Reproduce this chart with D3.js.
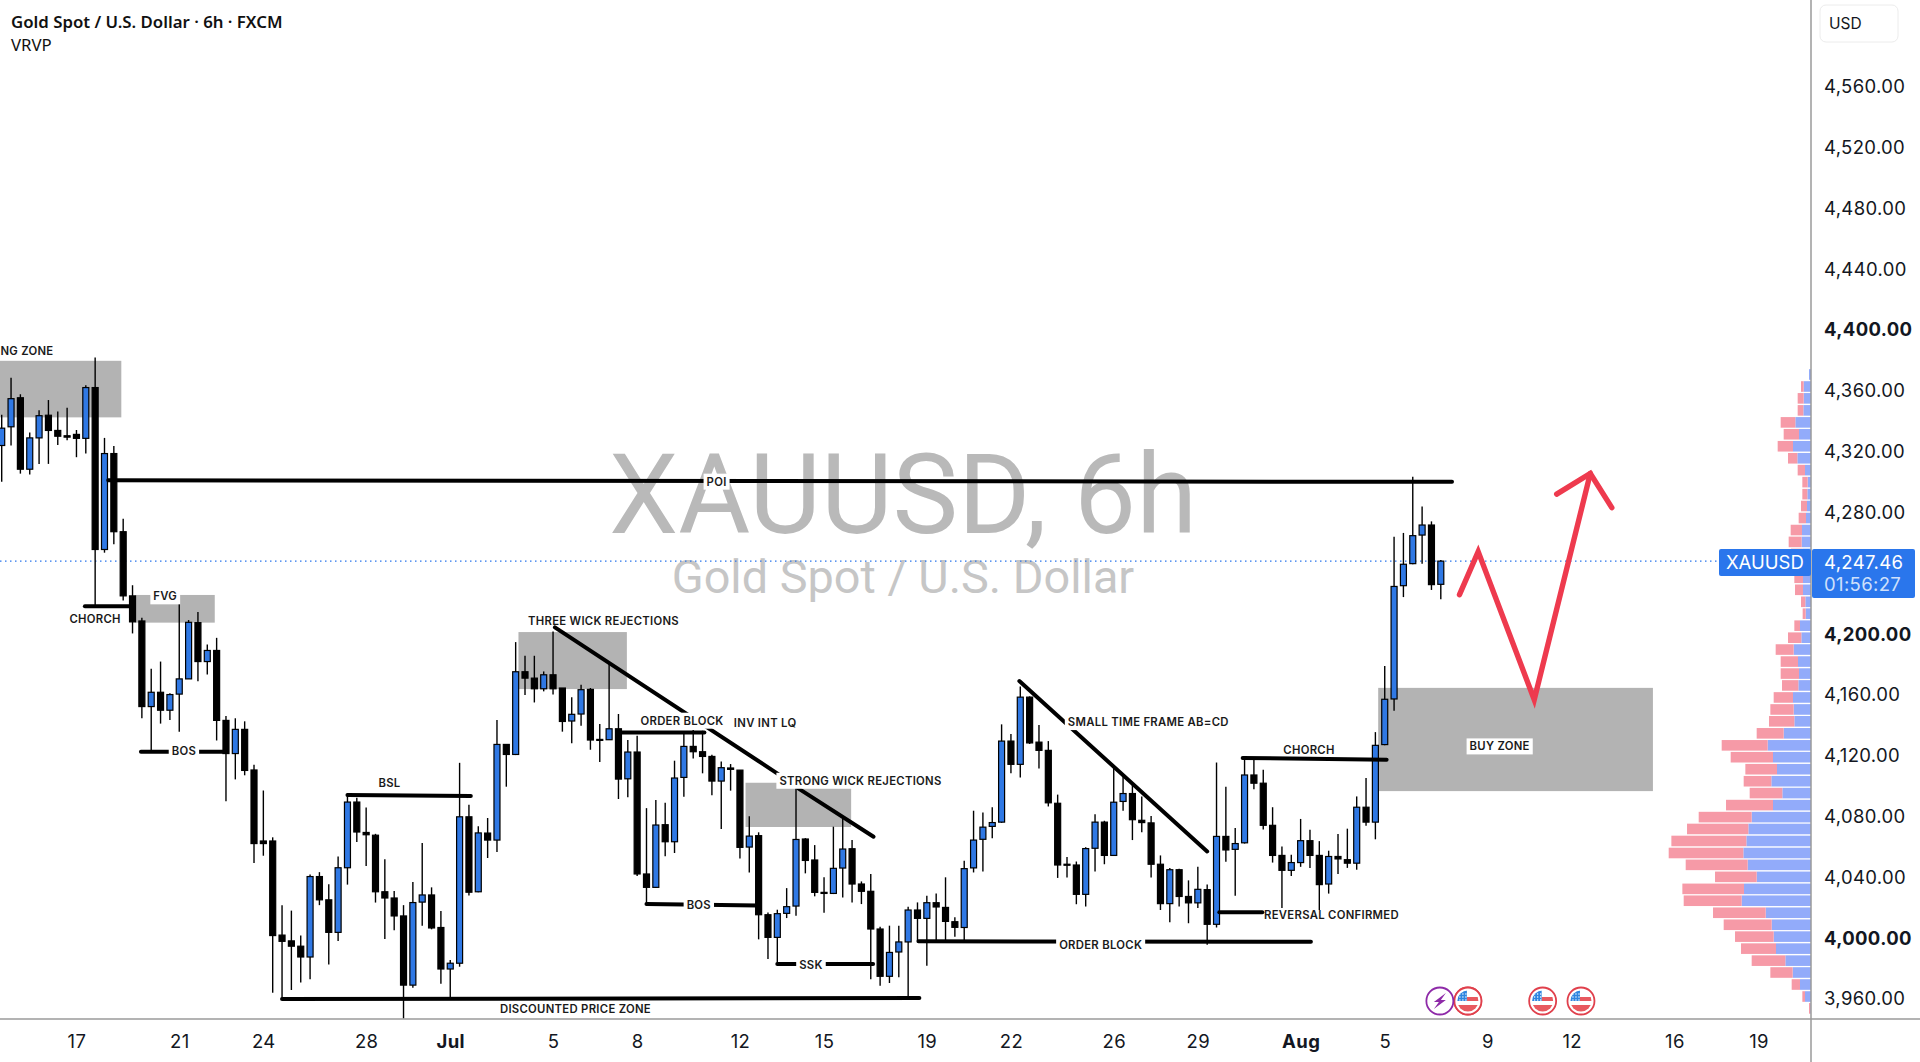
<!DOCTYPE html>
<html>
<head>
<meta charset="utf-8">
<title>XAUUSD 6h</title>
<script src="https://cdn.jsdelivr.net/npm/d3@7"></script>
<style>
  html, body { margin: 0; padding: 0; background: #fff; }
  svg { display: block; }
  .axis path, .axis line { display: none; }
  .axis text { font-family: Inter, sans-serif; font-size: 18.5px; letter-spacing: .35px; fill: #131722; }
  .note { font-family: Inter, sans-serif; font-size: 11.3px; font-weight: 600; letter-spacing: .3px; fill: #1a1a1a; }
</style>
</head>
<body>
<div id="chart"></div>
<script>
//** candles (blue = up, black = down)
const opens = [
  4323.5, 4335.8, 4354.9, 4307.9, 4328.5, 4343.4, 4333.4, 4329.9, 4330.8, 4328.2,
  4361.6, 4255.1, 4318.2, 4266.8, 4224.6, 4208.1, 4151.8, 4161.2, 4149.4, 4160.0,
  4170.0, 4207.0, 4181.4, 4188.7, 4142.7, 4120.9, 4136.8, 4110.1, 4063.4, 4063.4,
  4001.5, 3997.7, 3994.2, 3987.1, 4040.0, 4024.7, 4003.3, 4045.8, 4089.0, 4069.0,
  4067.2, 4030.0, 4025.9, 4014.1, 3968.6, 4023.2, 4027.9, 4006.5, 3979.2, 3983.0,
  4079.3, 4030.0, 4068.6, 4064.0, 4126.9, 4120.3, 4174.7, 4170.5, 4163.5, 4172.7,
  4164.0, 4142.3, 4146.9, 4163.1, 4130.2, 4130.0, 4137.2, 4104.3, 4121.9, 4041.7,
  4032.9, 4074.1, 4062.9, 4105.2, 4125.6, 4122.1, 4119.0, 4102.8, 4111.4, 4110.0,
  4059.4, 4066.9, 4014.9, 4000.0, 4015.8, 4020.6, 4064.7, 4050.9, 4029.6, 4028.9,
  4045.6, 4058.3, 4035.1, 4030.3, 4005.5, 3974.4, 3990.4, 3997.0, 4018.0, 4012.5,
  4022.8, 4019.7, 4010.3, 4006.5, 4045.7, 4064.5, 4073.0, 4075.8, 4129.1, 4113.8,
  4158.0, 4128.4, 4123.0, 4088.2, 4048.1, 4047.6, 4028.3, 4058.6, 4075.8, 4053.9,
  4089.4, 4094.6, 4077.0, 4075.3, 4048.1, 4022.2, 4044.5, 4026.9, 4022.7, 4031.4,
  4008.6, 4066.4, 4057.9, 4062.2, 4106.8, 4101.4, 4073.7, 4053.9, 4044.1, 4049.2,
  4063.6, 4053.9, 4035.1, 4053.2, 4051.1, 4048.8, 4085.6, 4075.8, 4126.8, 4156.8,
  4231.3, 4245.8, 4264.6, 4271.2, 4232.2
];
const highs = [
  4343.7, 4368.1, 4357.2, 4332.0, 4346.7, 4353.4, 4345.8, 4348.4, 4333.7, 4363.1,
  4381.3, 4328.5, 4323.2, 4275.3, 4231.6, 4210.2, 4176.7, 4181.4, 4160.6, 4219.9,
  4208.7, 4214.0, 4192.6, 4197.0, 4145.6, 4144.1, 4142.1, 4113.6, 4096.6, 4065.8,
  4021.2, 4017.6, 4001.2, 4041.4, 4042.9, 4035.0, 4053.2, 4093.7, 4091.9, 4085.4,
  4068.1, 4051.4, 4030.5, 4021.2, 4036.4, 4062.0, 4032.9, 4017.3, 3985.1, 4114.8,
  4087.2, 4073.1, 4078.5, 4142.9, 4127.1, 4194.2, 4185.2, 4185.2, 4174.9, 4201.2,
  4164.0, 4158.0, 4166.2, 4164.0, 4140.3, 4179.8, 4146.9, 4129.8, 4132.6, 4085.0,
  4090.3, 4088.6, 4116.2, 4134.2, 4136.4, 4135.9, 4120.1, 4115.7, 4114.0, 4110.0,
  4079.6, 4069.1, 4016.4, 4018.2, 4032.4, 4098.6, 4065.3, 4060.7, 4039.5, 4072.8,
  4078.9, 4064.0, 4036.8, 4041.7, 4007.0, 4007.7, 4007.7, 4020.2, 4023.0, 4027.4,
  4028.9, 4039.5, 4013.2, 4050.4, 4083.3, 4082.1, 4085.6, 4140.1, 4133.8, 4165.0,
  4158.5, 4139.7, 4129.1, 4093.9, 4052.8, 4049.9, 4059.3, 4081.0, 4076.7, 4111.5,
  4105.6, 4100.9, 4092.7, 4079.8, 4053.9, 4045.7, 4045.2, 4037.5, 4046.4, 4034.7,
  4115.0, 4099.0, 4072.0, 4117.4, 4116.7, 4110.3, 4085.6, 4059.8, 4054.4, 4077.9,
  4070.8, 4063.3, 4057.0, 4068.0, 4071.5, 4092.7, 4104.9, 4135.0, 4178.4, 4263.5,
  4266.0, 4302.9, 4283.4, 4273.6, 4248.2
];
const lows = [
  4299.7, 4323.5, 4305.0, 4304.4, 4311.4, 4311.4, 4323.8, 4327.0, 4315.8, 4318.2,
  4218.4, 4253.0, 4258.6, 4221.6, 4199.9, 4144.1, 4122.1, 4140.6, 4143.0, 4135.3,
  4170.0, 4168.5, 4172.9, 4129.5, 4089.5, 4103.9, 4106.6, 4049.0, 4053.7, 3963.6,
  3959.2, 3965.4, 3970.4, 3972.4, 4021.2, 3982.1, 3997.7, 4034.7, 4062.8, 4047.0,
  4022.9, 3998.9, 4004.7, 3946.6, 3966.9, 4007.7, 4005.3, 3969.5, 3959.5, 3980.7,
  4027.6, 4029.7, 4052.2, 4056.1, 4099.1, 4119.9, 4159.4, 4154.5, 4161.8, 4159.8,
  4135.3, 4127.6, 4139.2, 4123.4, 4115.3, 4129.8, 4091.0, 4092.1, 4040.3, 4021.9,
  4032.4, 4053.3, 4055.5, 4092.5, 4117.7, 4107.9, 4093.4, 4071.2, 4096.5, 4051.9,
  4042.7, 3998.7, 3985.8, 3982.5, 4012.7, 4014.3, 4042.1, 4027.0, 4016.2, 4028.5,
  4026.3, 4023.0, 4021.9, 3972.4, 3968.2, 3970.0, 3973.7, 3959.4, 3997.8, 3981.4,
  3997.8, 3997.8, 4000.4, 3998.3, 4042.7, 4043.4, 4065.2, 4075.3, 4108.0, 4105.1,
  4127.2, 4111.0, 4086.1, 4039.1, 4039.4, 4021.8, 4020.3, 4043.4, 4048.1, 4053.7,
  4083.3, 4064.0, 4069.2, 4039.4, 4018.0, 4010.0, 4020.3, 4009.3, 4019.4, 3995.2,
  4006.5, 4049.7, 4027.4, 4061.7, 4097.4, 4070.9, 4049.2, 4019.4, 4040.3, 4046.4,
  4045.7, 4018.0, 4028.8, 4041.7, 4045.7, 4044.5, 4073.4, 4064.5, 4126.3, 4149.1,
  4223.8, 4245.4, 4245.8, 4228.5, 4222.4
];
const closes = [
  4334.9, 4354.3, 4307.9, 4328.5, 4343.1, 4333.4, 4329.6, 4329.0, 4328.2, 4361.6,
  4255.1, 4318.2, 4266.8, 4224.6, 4207.5, 4151.8, 4161.2, 4149.4, 4159.7, 4170.0,
  4207.2, 4181.4, 4188.7, 4142.7, 4120.9, 4136.8, 4109.8, 4061.7, 4061.7, 4001.2,
  3997.4, 3994.2, 3987.1, 4040.0, 4024.7, 4003.3, 4045.8, 4089.0, 4069.3, 4067.5,
  4030.0, 4025.9, 4014.1, 3968.6, 4022.9, 4027.9, 4006.2, 3979.2, 3983.0, 4079.3,
  4029.7, 4068.7, 4064.0, 4126.9, 4120.3, 4174.7, 4170.5, 4163.5, 4172.7, 4163.5,
  4142.0, 4146.7, 4162.9, 4129.8, 4129.8, 4137.2, 4104.1, 4121.9, 4041.7, 4032.9,
  4073.9, 4062.9, 4104.8, 4125.6, 4122.1, 4119.0, 4102.8, 4111.6, 4110.5, 4059.2,
  4066.6, 4014.9, 4000.0, 4015.6, 4020.2, 4064.4, 4050.6, 4029.6, 4028.9, 4045.4,
  4058.1, 4035.1, 4030.3, 4005.5, 3974.4, 3990.1, 3997.0, 4018.0, 4012.5, 4022.8,
  4020.0, 4010.5, 4006.6, 4045.2, 4064.0, 4072.5, 4075.5, 4129.1, 4113.8, 4158.0,
  4127.9, 4123.0, 4088.5, 4047.6, 4047.6, 4028.3, 4058.4, 4075.8, 4053.9, 4088.9,
  4094.6, 4077.4, 4075.5, 4048.1, 4022.2, 4044.5, 4026.9, 4022.7, 4031.6, 4008.6,
  4066.4, 4057.5, 4061.7, 4106.8, 4101.4, 4073.7, 4053.9, 4044.1, 4049.2, 4063.6,
  4053.9, 4034.7, 4053.2, 4051.6, 4048.8, 4085.6, 4075.8, 4126.3, 4156.6, 4230.8,
  4245.4, 4264.2, 4271.2, 4232.0, 4247.46
];

//** price axis and time axis
const priceTicks = [3960, 4000, 4040, 4080, 4120, 4160, 4200, 4240, 4280, 4320, 4360, 4400, 4440, 4480, 4520, 4560];
const boldPrices = [4000, 4200, 4400];
const timeTickBars = [8, 19, 28, 39, 48, 59, 68, 79, 88, 99, 108, 119, 128, 139, 148, 159, 168, 179, 188];
const timeTickLabels = ['17', '21', '24', '28', 'Jul', '5', '8', '12', '15', '19', '22', '26', '29', 'Aug', '5', '9', '12', '16', '19'];

//** visible range volume profile
const profilePrices = [
  4370.2, 4362.3, 4354.5, 4346.6, 4338.7, 4330.9, 4323.0, 4315.1, 4307.3, 4299.4,
  4291.5, 4283.7, 4275.8, 4267.9, 4260.1, 4252.2, 4244.3, 4236.5, 4228.6, 4220.7,
  4212.9, 4205.0, 4197.1, 4189.3, 4181.4, 4173.5, 4165.7, 4157.8, 4149.9, 4142.1,
  4134.2, 4126.3, 4118.5, 4110.6, 4102.7, 4094.9, 4087.0, 4079.1, 4071.3, 4063.4,
  4055.5, 4047.7, 4039.8, 4031.9, 4024.1, 4016.2, 4008.3, 4000.5, 3992.6, 3984.7,
  3976.9, 3969.0, 3961.1, 3953.3
];
const volumeUp = [
  6, 22, 22, 23, 47, 36, 54, 41, 18, 10, 11, 12, 15, 27, 28, 25, 22, 24, 24, 17,
  16, 33, 29, 52, 39, 36, 38, 54, 52, 50, 82, 130, 114, 102, 119, 86, 114, 178, 188, 194,
  203, 190, 163, 201, 208, 136, 118, 112, 105, 77, 55, 33, 18, 2
];
const volumeDown = [
  0, 8, 18, 17, 44, 46, 46, 28, 22, 16, 15, 18, 22, 34, 39, 35, 28, 26, 24, 13,
  9, 17, 40, 54, 52, 55, 49, 58, 70, 76, 81, 138, 127, 95, 83, 98, 141, 159, 184, 225,
  224, 186, 125, 185, 174, 158, 144, 116, 105, 101, 67, 25, 8, 4
];

//** drawn annotations, in bar number and price
const zoneBars = [[-0.2, 12.8], [14.3, 22.8], [55.3, 66.9], [79.6, 90.9], [147.3, 176.7]];
const zonePrices = [[4379.2, 4342], [4225.2, 4207], [4200.8, 4163.3], [4101.7, 4072.6], [4164.1, 4096.2]];
const lineBars = [
  [11.4, 155.2], [8.9, 13.8], [14.9, 24.1], [37, 50.2], [30, 98.2], [59.2, 83.1], [85.2, 93.3],
  [66.3, 75.2], [69, 80.9], [83, 93.25], [98.1, 140.1], [108.9, 129], [130.3, 134.9], [132.8, 148.2]
];
const linePrices = [
  [4300.6, 4299.6], [4217.8, 4217.8], [4122.1, 4122.1], [4093.7, 4093], [3959.5, 3960.1], [4203.9, 4107.4], [4098.2, 4066.2],
  [4134.8, 4134.8], [4021.9, 4021], [3982.5, 3982.5], [3997.4, 3997.1], [4168.6, 4056.5], [4016.6, 4016.6], [4118, 4116.9]
];
const noteTexts = [
  'NG ZONE', 'CHORCH', 'FVG', 'BOS', 'BSL', 'THREE WICK REJECTIONS', 'ORDER BLOCK', 'INV INT LQ',
  'STRONG WICK REJECTIONS', 'BOS', 'SSK', 'DISCOUNTED PRICE ZONE', 'SMALL TIME FRAME AB=CD', 'CHORCH',
  'BUY ZONE', 'ORDER BLOCK', 'REVERSAL CONFIRMED', 'POI'
];
const noteBars = [2.7, 10, 17.5, 19.5, 41.5, 64.4, 72.8, 81.7, 91.9, 74.6, 86.6, 61.4, 122.7, 139.9, 160.3, 117.6, 142.3, 76.5];
const notePrices = [4385.8, 4209.3, 4224.3, 4122.4, 4101.3, 4208.3, 4142.5, 4140.7, 4103, 4021.5, 3982, 3953.1, 4141.6, 4123.2, 4125.6, 3995.2, 4015, 4299.7];
const noteBoxed = [false, false, true, true, false, false, true, false, true, true, true, false, true, false, true, true, false, true];
const arrowBars = [156, 158, 164, 170];
const arrowPrices = [4225.4, 4253.7, 4156.3, 4305.1];
const headBars = [166.4, 170, 172.3];
const headPrices = [4291.5, 4305.1, 4282.6];

const lastPrice = 4247.46;
const flagBars = [156.9, 164.9, 169];
const boltBar = 153.9;

const W = 1920, H = 1062;
const plotRight = 1811, plotBottom = 1019;
const candleBlue = '#2f78e4', ink = '#000';

const svg = d3.select('#chart').append('svg').attr('width', W).attr('height', H);
const x = d3.scaleLinear().domain([0, 154]).range([1.7, 1440.8]);
const y = d3.scaleLinear().domain([3960, 4560]).range([998.2, 85.9]);
const volX = d3.scaleLinear().domain([0, 427]).range([0, 142.3]);

//** watermark
const wm = svg.append('g').attr('font-family', 'Roboto, sans-serif').attr('text-anchor', 'middle');
wm.append('text').attr('x', 903).attr('y', 533).attr('font-size', 110.4).attr('fill', '#b9b9b9').text('XAUUSD, 6h');
wm.append('text').attr('x', 903).attr('y', 593).attr('font-size', 46.8).attr('fill', '#c6c6c6').text('Gold Spot / U.S. Dollar');

//** volume profile
const profile = svg.append('g');
profile.selectAll('.up').data(profilePrices).join('rect').attr('class', 'up')
  .attr('x', (d, i) => plotRight - volX(volumeUp[i]))
  .attr('y', d => y(d) - 5.3)
  .attr('width', (d, i) => volX(volumeUp[i]))
  .attr('height', 10.6)
  .attr('fill', '#92abfa');
profile.selectAll('.down').data(profilePrices).join('rect').attr('class', 'down')
  .attr('x', (d, i) => plotRight - volX(volumeUp[i] + volumeDown[i]))
  .attr('y', d => y(d) - 5.3)
  .attr('width', (d, i) => volX(volumeDown[i]))
  .attr('height', 10.6)
  .attr('fill', '#f69aa7');

//** last price dotted line
svg.append('line')
  .attr('x1', 0).attr('x2', 1719)
  .attr('y1', y(lastPrice)).attr('y2', y(lastPrice))
  .attr('stroke', '#2a76ec').attr('stroke-width', 1.2).attr('stroke-dasharray', '1.5 3.5');

//** zones
svg.append('g').selectAll('rect').data(zoneBars).join('rect')
  .attr('x', d => x(d[0]))
  .attr('width', d => x(d[1]) - x(d[0]))
  .attr('y', (d, i) => y(zonePrices[i][0]))
  .attr('height', (d, i) => y(zonePrices[i][1]) - y(zonePrices[i][0]))
  .attr('fill', '#b3b3b3');

//** candles
const candles = svg.append('g').selectAll('g').data(opens).join('g');
candles.append('line')
  .attr('x1', (d, i) => x(i)).attr('x2', (d, i) => x(i))
  .attr('y1', (d, i) => y(highs[i])).attr('y2', (d, i) => y(lows[i]))
  .attr('stroke', ink).attr('stroke-width', 1.4);
candles.append('rect')
  .attr('x', (d, i) => x(i) - 3)
  .attr('width', 6)
  .attr('y', (d, i) => y(Math.max(opens[i], closes[i])))
  .attr('height', (d, i) => Math.max(1, Math.abs(y(opens[i]) - y(closes[i]))))
  .attr('fill', (d, i) => closes[i] > opens[i] ? candleBlue : ink)
  .attr('stroke', ink).attr('stroke-width', 1.2);

//** drawn lines
svg.append('g').selectAll('line').data(lineBars).join('line')
  .attr('x1', d => x(d[0])).attr('x2', d => x(d[1]))
  .attr('y1', (d, i) => y(linePrices[i][0])).attr('y2', (d, i) => y(linePrices[i][1]))
  .attr('stroke', ink).attr('stroke-width', 4).attr('stroke-linecap', 'round');

//** red projection
const arrowLine = d3.line().x(d => x(d[0])).y(d => y(d[1]));
svg.append('path')
  .attr('d', arrowLine(arrowBars.map((b, i) => [b, arrowPrices[i]])))
  .attr('fill', 'none').attr('stroke', '#ee3a4e').attr('stroke-width', 5.4)
  .attr('stroke-linecap', 'round').attr('stroke-linejoin', 'miter');
svg.append('path')
  .attr('d', arrowLine(headBars.map((b, i) => [b, headPrices[i]])))
  .attr('fill', 'none').attr('stroke', '#ee3a4e').attr('stroke-width', 5.4)
  .attr('stroke-linecap', 'round').attr('stroke-linejoin', 'miter');

//** annotation labels, white plate where the line or zone is broken by the text
const notes = svg.append('g');
noteTexts.forEach((t, i) => {
  const g = notes.append('g');
  const label = g.append('text').attr('class', 'note')
    .attr('x', x(noteBars[i])).attr('y', y(notePrices[i]))
    .attr('text-anchor', 'middle').attr('dominant-baseline', 'central')
    .text(t);
  if (noteBoxed[i]) {
    const b = label.node().getBBox();
    g.insert('rect', 'text')
      .attr('x', b.x - 3).attr('y', b.y - 1)
      .attr('width', b.width + 6).attr('height', b.height + 2)
      .attr('fill', '#fff');
  }
});

//** event icons
const defs = svg.append('defs');
const iconY = 1001;
flagBars.concat([boltBar + 3]).forEach((b, i) => {
  const cx = x(b);
  defs.append('clipPath').attr('id', 'flag' + i).append('circle').attr('cx', cx).attr('cy', iconY).attr('r', 10.5);
  const g = svg.append('g');
  g.append('circle').attr('cx', cx).attr('cy', iconY).attr('r', 13.5).attr('fill', '#fff').attr('stroke', '#e0404c').attr('stroke-width', 1.8);
  const f = g.append('g').attr('clip-path', 'url(#flag' + i + ')');
  f.append('rect').attr('x', cx - 1).attr('y', iconY - 4).attr('width', 12).attr('height', 4).attr('fill', '#e8595f');
  f.append('rect').attr('x', cx - 11).attr('y', iconY + 4).attr('width', 22).attr('height', 7).attr('fill', '#e8595f');
  f.append('rect').attr('x', cx - 11).attr('y', iconY - 11).attr('width', 10).attr('height', 11).attr('fill', '#2f86e0');
  [-8, -5, -2].forEach(dx => [-7, -4, -1].forEach(dy => {
    f.append('circle').attr('cx', cx + dx).attr('cy', iconY + dy).attr('r', .7).attr('fill', '#fff');
  }));
});
const boltX = x(boltBar);
svg.append('circle').attr('cx', boltX).attr('cy', iconY).attr('r', 13.5).attr('fill', '#fff').attr('stroke', '#8e2aa8').attr('stroke-width', 1.8);
svg.append('path')
  .attr('transform', 'translate(' + boltX + ',' + iconY + ')')
  .attr('d', 'M6 -8L-6 1L-1 1L-6 8L6 -1L1 -1Z')
  .attr('fill', '#8e2aa8');

//** axes
svg.append('rect').attr('x', plotRight + 1).attr('y', 0).attr('width', W - plotRight).attr('height', plotBottom).attr('fill', '#fff');
const yAxis = d3.axisRight(y).tickValues(priceTicks).tickFormat(d3.format(',.2f')).tickSize(0).tickPadding(0);
const yg = svg.append('g').attr('class', 'axis').attr('transform', 'translate(1824,0.8)').call(yAxis);
yg.selectAll('text').style('font-weight', d => boldPrices.includes(d) ? 700 : 400);

const xAxis = d3.axisBottom(x).tickValues(timeTickBars).tickFormat((d, i) => timeTickLabels[i]).tickSize(0).tickPadding(0);
const xg = svg.append('g').attr('class', 'axis').attr('transform', 'translate(0,1034.5)').call(xAxis);
xg.selectAll('text').style('font-weight', d => (d === 48 || d === 139) ? 700 : 400);

svg.append('line').attr('x1', plotRight).attr('x2', plotRight).attr('y1', 0).attr('y2', H).attr('stroke', '#9a9a9a').attr('stroke-width', 1.5);
svg.append('line').attr('x1', 0).attr('x2', W).attr('y1', plotBottom).attr('y2', plotBottom).attr('stroke', '#9a9a9a').attr('stroke-width', 1.5);

//** last price label
const tag = svg.append('g').attr('font-family', 'Inter, sans-serif').attr('font-size', 18.5);
tag.append('rect').attr('x', 1719).attr('y', 549).attr('width', 92).attr('height', 27).attr('rx', 2).attr('fill', '#2a76ec');
tag.append('rect').attr('x', 1812).attr('y', 549).attr('width', 103).attr('height', 49).attr('rx', 2).attr('fill', '#2a76ec');
tag.append('text').attr('x', 1726).attr('y', 569).attr('fill', '#fff').text('XAUUSD');
tag.append('text').attr('x', 1824).attr('y', 568.5).attr('letter-spacing', '.35').attr('fill', '#fff').text(d3.format(',.2f')(lastPrice));
tag.append('text').attr('x', 1824).attr('y', 590.5).attr('letter-spacing', '.35').attr('fill', '#cfe0fb').text('01:56:27');

//** currency box
svg.append('rect').attr('x', 1820).attr('y', 5).attr('width', 78).attr('height', 37).attr('rx', 6).attr('fill', '#fff').attr('stroke', '#ececec');
svg.append('text').attr('x', 1829).attr('y', 29).attr('font-family', 'Inter, sans-serif').attr('font-size', 15.5).attr('fill', '#131722').text('USD');

//** header
const head = svg.append('g').attr('font-family', '"Noto Sans", sans-serif').attr('fill', '#111');
head.append('text').attr('x', 11).attr('y', 28).attr('font-size', 16.8).attr('font-weight', 600).text('Gold Spot / U.S. Dollar · 6h · FXCM');
head.append('text').attr('x', 11).attr('y', 51).attr('font-size', 16.8).text('VRVP');
</script>
</body>
</html>
